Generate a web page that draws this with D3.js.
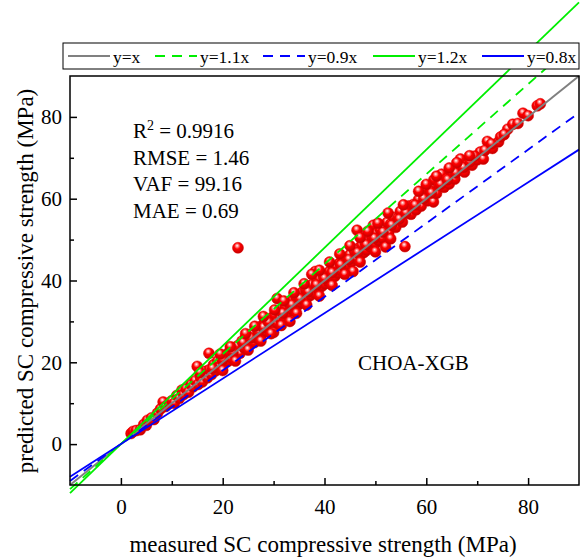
<!DOCTYPE html>
<html><head><meta charset="utf-8">
<script src="https://cdn.jsdelivr.net/npm/d3@7"></script>
<style>body{margin:0;background:#fff}text{font-family:"Liberation Serif","Times New Roman",serif;fill:#000}</style>
</head><body><svg id="c" width="581" height="560"></svg>
<script>
const measured = [2.0,2.4,3.0,3.8,4.5,5.0,5.2,6.0,6.5,7.2,7.8,8.3,8.8,9.5,10.0,10.5,11.0,11.5,12.0,12.3,12.8,13.3,13.8,14.2,14.6,15.0,15.2,15.6,16.0,17.3,16.6,17.0,17.4,17.8,18.2,18.6,19.0,19.3,19.8,20.2,20.5,21.0,21.3,21.8,22.2,22.5,23.0,23.0,23.4,23.8,24.2,24.6,25.0,25.3,25.7,26.0,26.2,26.5,26.8,27.2,27.5,27.8,28.2,28.5,28.8,29.1,29.5,29.8,30.0,30.2,30.6,30.7,31.0,31.3,31.6,32.0,32.3,32.6,33.0,33.2,33.5,33.8,34.1,34.4,34.8,35.1,35.4,35.7,36.0,36.3,36.6,37.0,37.3,37.6,38.0,38.2,38.5,38.8,39.1,39.5,39.8,40.1,40.4,40.7,41.0,41.3,41.7,42.0,42.3,42.6,43.0,43.3,43.6,44.0,44.3,44.6,45.0,45.3,45.6,45.9,46.2,46.4,46.7,47.0,47.3,47.7,48.0,48.3,48.7,49.0,49.3,49.6,50.0,50.3,50.6,51.0,51.3,51.7,52.0,52.3,52.6,53.0,53.6,54.0,54.4,54.9,55.3,55.8,56.5,57.0,57.5,58.0,58.5,59.0,59.8,60.3,60.8,61.4,61.5,62.0,62.5,63.0,63.5,64.0,64.5,65.0,65.6,66.0,66.7,67.0,67.5,68.0,69.0,70.0,70.6,71.2,72.0,73.0,74.2,74.6,76.0,77.0,79.0,81.8,82.4,
18.0,20.0,22.0,24.0,25.5,27.0,28.0,29.0,31.8,33.6,35.2,36.8,38.4,40.0,41.5,43.2,44.8,46.5,48.2,49.8,51.5,53.2,54.7,56.0,57.8,59.5,61.0,62.8,64.2,65.8,67.3,68.6,69.5,71.5,72.8,75.3,78.0,80.0,
15.5,19.5,21.5,24.5,26.3,28.0,30.2,32.0,34.0,36.0,37.5,39.0,41.0,43.0,45.0,47.0,48.5,50.5,52.5,
20.0,22.5,25.0,27.5,29.5,31.5,34.5,36.5,39.0,41.5,44.0,47.0,50.0,53.0,
55.5,58.5,60.0,62.0,64.5,66.0,68.5];
const predicted = [2.6,3.1,3.3,3.5,4.8,4.6,5.8,6.4,6.0,7.6,8.6,10.3,9.2,9.9,10.6,10.0,11.9,11.2,13.2,12.1,13.5,12.7,14.6,14.0,15.5,19.0,14.6,16.4,15.2,22.2,17.8,16.2,18.2,17.0,19.4,17.9,20.3,18.6,21.0,19.5,21.8,20.2,22.5,21.0,23.6,21.6,48.0,24.1,22.2,25.2,23.5,26.3,24.0,26.6,25.0,27.2,24.8,26.0,28.3,26.3,28.8,27.0,29.6,27.6,30.0,28.2,30.8,29.0,27.3,31.5,29.7,35.6,32.4,30.5,33.0,31.0,33.6,31.8,34.5,30.0,33.0,35.2,33.3,36.0,34.0,36.5,34.6,37.2,35.0,37.8,35.8,38.5,36.4,39.0,37.0,42.2,39.6,37.8,40.3,38.6,41.0,39.2,41.5,39.8,42.2,40.3,42.8,41.0,43.5,41.8,44.3,42.4,45.0,43.2,45.5,43.8,46.3,44.5,42.2,47.2,45.3,52.3,47.9,46.2,48.6,46.8,49.2,47.4,50.0,48.2,50.6,53.5,49.0,51.5,49.8,52.3,50.4,53.0,48.2,54.2,51.6,53.8,55.4,53.0,55.2,56.9,54.3,48.3,58.2,56.2,58.6,57.3,59.8,58.2,62.3,59.5,62.0,59.2,64.6,61.3,63.2,66.0,62.8,64.8,63.6,66.2,64.8,67.0,69.7,67.8,66.5,68.3,68.2,69.5,71.4,69.7,74.0,72.3,73.9,75.1,77.0,78.2,80.9,82.7,83.2,
18.5,20.6,22.4,24.8,26.0,27.5,28.5,29.8,32.0,34.0,35.5,37.2,38.9,40.5,41.9,43.8,45.1,46.8,48.7,50.3,51.8,53.5,55.0,56.5,58.4,60.0,61.4,63.5,64.6,66.3,67.6,69.0,70.4,71.8,73.4,75.7,78.4,80.3,
17.5,22.0,23.8,27.0,28.8,31.2,32.8,35.0,37.0,39.2,41.5,42.5,44.5,46.5,48.5,50.5,52.0,54.0,56.5,
18.0,20.3,23.0,25.2,27.0,29.0,32.0,34.0,36.2,38.8,41.5,44.5,47.0,50.2,
58.5,61.8,63.5,65.5,67.5,68.8,70.5];
const xTicks = [0,20,40,60,80];
const yTicks = [0,20,40,60,80];
const refSlopes = [1, 1.1, 0.9, 1.2, 0.8];
const refNames = ["y=x","y=1.1x","y=0.9x","y=1.2x","y=0.8x"];
const refColors = ["#808080","#00ee00","#0000ff","#00ee00","#0000ff"];
const refDash = [null,"10,7","10,7",null,null];
const stats = [["R","2"," = 0.9916"],["RMSE = 1.46"],["VAF = 99.16"],["MAE = 0.69"]];

const svg = d3.select("#c");
const L=70,R=579,T=76,B=485;
const x = d3.scaleLinear().domain([-10,90]).range([L,R]);
const y = d3.scaleLinear().domain([-10,90]).range([B,T]);

const defs = svg.append("defs");
const g = defs.append("radialGradient").attr("id","ball").attr("cx","0.45").attr("cy","0.38").attr("r","0.62").attr("fx","0.42").attr("fy","0.3");
g.append("stop").attr("offset","0").attr("stop-color","#ffffff");
g.append("stop").attr("offset","0.18").attr("stop-color","#ff9a9a");
g.append("stop").attr("offset","0.45").attr("stop-color","#ff0000");
g.append("stop").attr("offset","1").attr("stop-color","#c00000");

const data = measured.map((m,i)=>({m, p:predicted[i]}));
svg.append("g").selectAll("circle").data(data).join("circle")
  .attr("cx",d=>x(d.m)).attr("cy",d=>y(d.p)).attr("r",5.5)
  .attr("fill","url(#ball)").attr("stroke","#e00000").attr("stroke-width",0.5);

refSlopes.forEach((k,i)=>{
  svg.append("line").attr("x1",x(-10)).attr("y1",y(-10*k)).attr("x2",x(90)).attr("y2",y(90*k))
    .attr("stroke",refColors[i]).attr("stroke-width",i===0?2:1.8).attr("stroke-dasharray",refDash[i]);
});

svg.append("rect").attr("x",L).attr("y",T).attr("width",R-L).attr("height",B-T).attr("fill","none").attr("stroke","#000").attr("stroke-width",1.5);

const xa = svg.append("g").attr("transform",`translate(0,${B})`)
  .call(d3.axisBottom(x).tickValues(xTicks).tickSize(-7).tickPadding(14).tickFormat(d3.format("d")));
const ya = svg.append("g").attr("transform",`translate(${L},0)`)
  .call(d3.axisLeft(y).tickValues(yTicks).tickSize(-7).tickPadding(8).tickFormat(d3.format("d")));
[xa,ya].forEach(a=>{a.select(".domain").remove();a.selectAll("line").attr("stroke","#000").attr("stroke-width",1.5);a.selectAll("text").attr("font-size",21).attr("font-family","Liberation Serif");});
svg.append("g").attr("transform",`translate(0,${B})`).call(d3.axisBottom(x).tickValues([10,30,50,70]).tickSize(-4).tickFormat("")).call(a=>{a.select(".domain").remove();a.selectAll("line").attr("stroke","#000").attr("stroke-width",1.5);});
svg.append("g").attr("transform",`translate(${L},0)`).call(d3.axisLeft(y).tickValues([10,30,50,70]).tickSize(-4).tickFormat("")).call(a=>{a.select(".domain").remove();a.selectAll("line").attr("stroke","#000").attr("stroke-width",1.5);});

svg.append("text").attr("x",323).attr("y",552).attr("text-anchor","middle").attr("font-size",23).text("measured SC compressive strength (MPa)");
svg.append("text").attr("transform","translate(33,281) rotate(-90)").attr("text-anchor","middle").attr("font-size",23).text("predicted SC compressive strength (MPa)");

stats.forEach((s,i)=>{
  const t=svg.append("text").attr("x",133).attr("y",138+i*26.7).attr("font-size",21);
  if(s.length===3){t.append("tspan").text(s[0]);t.append("tspan").attr("dy",-8).attr("font-size",14).text(s[1]);t.append("tspan").attr("dy",8).text(s[2]);}
  else t.text(s[0]);
});
svg.append("text").attr("x",358).attr("y",370).attr("font-size",21).text("CHOA-XGB");

svg.append("rect").attr("x",63).attr("y",43).attr("width",516).attr("height",26).attr("fill","#fff").attr("stroke","#000").attr("stroke-width",1);
const legX=[68,155,263,373,482];
refNames.forEach((n,i)=>{
  svg.append("line").attr("x1",legX[i]).attr("x2",legX[i]+42).attr("y1",56).attr("y2",56)
    .attr("stroke",refColors[i]).attr("stroke-width",2).attr("stroke-dasharray",refDash[i]);
  svg.append("text").attr("x",legX[i]+45).attr("y",62.5).attr("font-size",17.5).text(n);
});
</script></body></html>
